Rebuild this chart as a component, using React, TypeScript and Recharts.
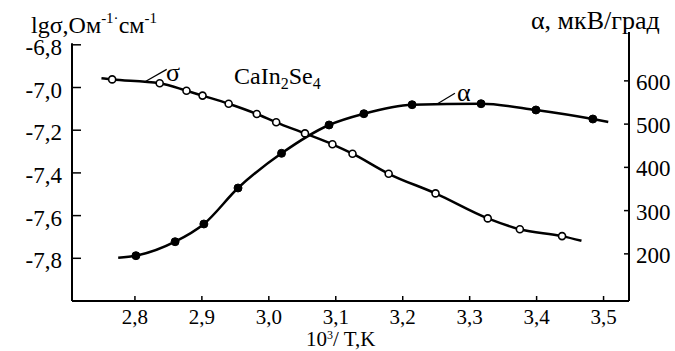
import React from 'react';
import {LineChart, Line, XAxis, YAxis, ReferenceLine} from 'recharts';

// x: 10^3/T, K
const xTicks = [2.8, 2.9, 3.0, 3.1, 3.2, 3.3, 3.4, 3.5];
const sigmaTicks = [-7.8, -7.6, -7.4, -7.2, -7.0, -6.8];
const alphaTicks = [200, 300, 400, 500, 600];

// lg sigma, measured points (open circles)
const sigmaX = [2.766, 2.837, 2.877, 2.901, 2.940, 2.982, 3.011, 3.054, 3.095, 3.125, 3.179, 3.249, 3.327, 3.375, 3.438];
const sigmaY = [-6.962, -6.980, -7.015, -7.038, -7.076, -7.124, -7.163, -7.215, -7.266, -7.310, -7.404, -7.496, -7.613, -7.664, -7.696];
const sigmaStart = {x: 2.750, y: -6.957};
const sigmaEnd = {x: 3.467, y: -7.718};

// alpha, mkV/grad, measured points (filled)
const alphaX = [2.8015, 2.860, 2.903, 2.954, 3.019, 3.090, 3.142, 3.214, 3.317, 3.399, 3.484];
const alphaY = [195.8, 228.1, 269.1, 352.3, 432.5, 498, 524.1, 544.9, 547.2, 532.7, 511.8];
const alphaStart = {x: 2.775, y: 191.1};
const alphaEnd = {x: 3.507, y: 504.9};

const FONT = 'Liberation Serif, Times New Roman, serif';
const X_DOMAIN: [number, number] = [2.706, 3.538];
const L_DOMAIN: [number, number] = [-8.0, -6.74];
const R_DOMAIN: [number, number] = [91, 713];

const buildCurve = (xs: number[], ys: number[], start: any, end: any) => [
  {x: start.x, v: start.y, marker: false},
  ...xs.map((x, i) => ({x, v: ys[i], marker: true})),
  {x: end.x, v: end.y, marker: false},
];

const sigmaData = buildCurve(sigmaX, sigmaY, sigmaStart, sigmaEnd);
const alphaData = buildCurve(alphaX, alphaY, alphaStart, alphaEnd);

const fmt = (v: number) => v.toFixed(1).replace('.', ',');
const tickText = {fontFamily: FONT, fontSize: 23, fill: '#000'};

const XTick = (props: any) => {
  const {x, y, payload} = props;
  return (
    <g>
      <line x1={x} x2={x} y1={y} y2={y - 5} stroke="#000" strokeWidth={1.5}/>
      <text x={x} y={y + 23} textAnchor="middle" style={{...tickText, fontSize: 21}}>{fmt(payload.value)}</text>
    </g>
  );
};

const LeftTick = (props: any) => {
  const {x, y, payload} = props;
  return (
    <g>
      <line x1={x} x2={x + 9} y1={y} y2={y} stroke="#000" strokeWidth={1.5}/>
      <text x={x - 10} y={y + 10} textAnchor="end" style={tickText}>{fmt(payload.value)}</text>
    </g>
  );
};

const RightTick = (props: any) => {
  const {x, y, payload} = props;
  return (
    <g>
      <line x1={x} x2={x - 5} y1={y} y2={y} stroke="#000" strokeWidth={1.5}/>
      <text x={x + 7} y={y + 9} textAnchor="start" style={tickText}>{payload.value}</text>
    </g>
  );
};

const openDot = (props: any) => {
  const {cx, cy, payload, index} = props;
  if (!payload.marker) return <g key={index}/>;
  return <circle key={index} cx={cx} cy={cy} r={3.5} fill="#fff" stroke="#000" strokeWidth={1.6}/>;
};

const filledDot = (props: any) => {
  const {cx, cy, payload, index} = props;
  if (!payload.marker) return <g key={index}/>;
  return <circle key={index} cx={cx} cy={cy} r={4} fill="#000" stroke="#000" strokeWidth={1}/>;
};

export default function App() {
  const txt = {fontFamily: FONT, fill: '#000'};
  return (
    <div style={{position: 'absolute', left: 0, top: 0, width: 675, height: 351, background: '#fff', fontFamily: FONT}}>
      <LineChart width={675} height={351} margin={{top: 32, right: 0, left: 8, bottom: 20}}>
        <XAxis
          type="number"
          dataKey="x"
          domain={X_DOMAIN}
          ticks={xTicks}
          allowDataOverflow
          tick={<XTick/>}
          tickLine={false}
          tickSize={0}
          tickMargin={0}
          height={30}
          axisLine={{stroke: '#000', strokeWidth: 2}}
        />
        <YAxis
          yAxisId="left"
          type="number"
          domain={L_DOMAIN}
          ticks={sigmaTicks}
          allowDataOverflow
          width={64}
          tick={<LeftTick/>}
          tickLine={false}
          tickSize={0}
          tickMargin={0}
          axisLine={false}
        />
        <YAxis
          yAxisId="right"
          orientation="right"
          type="number"
          domain={R_DOMAIN}
          ticks={alphaTicks}
          allowDataOverflow
          width={46}
          tick={<RightTick/>}
          tickLine={false}
          tickSize={0}
          tickMargin={0}
          axisLine={{stroke: '#000', strokeWidth: 2}}
        />
        <ReferenceLine
          yAxisId="left"
          segment={[{x: X_DOMAIN[0], y: -8.0}, {x: X_DOMAIN[0], y: -6.793}]}
          stroke="#000"
          strokeWidth={2}
          ifOverflow="visible"
        />
        <ReferenceLine
          yAxisId="left"
          segment={[{x: 2.815, y: -6.973}, {x: 2.8475, y: -6.915}]}
          stroke="#000"
          strokeWidth={1.2}
        />
        <ReferenceLine
          yAxisId="right"
          segment={[{x: 3.2507, y: 545.8}, {x: 3.278, y: 571.3}]}
          stroke="#000"
          strokeWidth={1.2}
        />
        <Line
          yAxisId="left"
          data={sigmaData}
          dataKey="v"
          type="monotone"
          stroke="#000"
          strokeWidth={2.5}
          dot={openDot}
          activeDot={false}
          isAnimationActive={false}
        />
        <Line
          yAxisId="right"
          data={alphaData}
          dataKey="v"
          type="monotone"
          stroke="#000"
          strokeWidth={2.5}
          dot={filledDot}
          activeDot={false}
          isAnimationActive={false}
        />
      </LineChart>
      <svg width={675} height={351} style={{position: 'absolute', left: 0, top: 0, pointerEvents: 'none'}}>
        <text x={31} y={33} style={{...txt, fontSize: 24}}>
          lgσ,Ом<tspan dy={-10} style={{fontSize: 15}}>-1·</tspan><tspan dy={10}>см</tspan><tspan dy={-10} style={{fontSize: 15}}>-1</tspan>
        </text>
        <text x={531} y={29} style={{...txt, fontSize: 26}}>α, мкВ/град</text>
        <text x={306} y={346} style={{...txt, fontSize: 21}}>
          10<tspan dy={-7} style={{fontSize: 12}}>3</tspan><tspan dy={7}>/ T,K</tspan>
        </text>
        <text x={234} y={84} style={{...txt, fontSize: 24}}>
          CaIn<tspan dy={5} style={{fontSize: 16}}>2</tspan><tspan dy={-5}>Se</tspan><tspan dy={5} style={{fontSize: 16}}>4</tspan>
        </text>
        <text x={166} y={81} style={{...txt, fontSize: 26}}>σ</text>
        <text x={457} y={101} style={{...txt, fontSize: 26}}>α</text>
      </svg>
    </div>
  );
}
